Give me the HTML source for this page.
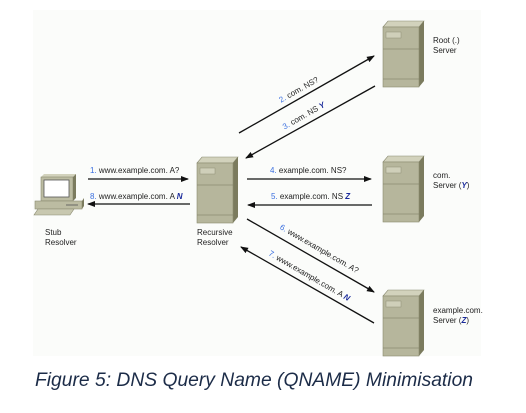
<!DOCTYPE html>
<html><head><meta charset="utf-8"><style>
html,body{margin:0;padding:0;background:#fff;width:526px;height:413px;overflow:hidden}
svg{display:block}
text{font-family:"Liberation Sans",Arial,sans-serif;font-size:8px;fill:#222}
.b{fill:#3a6fe0}
.n{fill:#1a2a9a;font-weight:bold;font-style:italic}
</style></head><body>
<svg width="526" height="413" viewBox="0 0 526 413">
<defs>
<marker id="a" markerWidth="8" markerHeight="8" refX="7" refY="4" orient="auto" markerUnits="userSpaceOnUse">
<path d="M0,1 L8,4 L0,7 Z" fill="#111"/></marker>
<g id="srv">
<path d="M0,6 L36,6 L41,0 L5,0 Z" fill="#d2d2bc" stroke="#8a8a70" stroke-width="0.6"/>
<path d="M36,6 L41,0 L41,60 L36,66 Z" fill="#7b7b5e"/>
<rect x="0" y="6" width="36" height="60" fill="#b6b69c" stroke="#8a8a70" stroke-width="0.6"/>
<rect x="3" y="11" width="15" height="6" fill="#cfcfb9" stroke="#8f8f76" stroke-width="0.5"/>
<line x1="0" y1="28" x2="36" y2="28" stroke="#8a8a70" stroke-width="0.8"/>
<line x1="0" y1="58" x2="36" y2="58" stroke="#8a8a70" stroke-width="0.8"/>
</g>
</defs>
<rect x="33" y="10" width="448" height="346" fill="#fbfcfa"/>
<use href="#srv" x="197" y="157"/>
<use href="#srv" x="383" y="21"/>
<use href="#srv" x="383" y="156"/>
<use href="#srv" x="383" y="290"/>
<g>
<path d="M41,177 L73,177 L76,174 L44,174 Z" fill="#d2d2bc"/>
<rect x="41" y="177" width="32" height="24" fill="#bcbca2" stroke="#8a8a70" stroke-width="0.6"/>
<path d="M73,177 L76,174 L76,198 L73,201 Z" fill="#7b7b5e"/>
<rect x="44" y="180" width="25" height="17" fill="#fff" stroke="#555" stroke-width="0.8"/>
<rect x="35" y="201" width="47" height="8" fill="#bcbca2" stroke="#8a8a70" stroke-width="0.6"/>
<path d="M82,201 L84,198 L84,206 L82,209 Z" fill="#7b7b5e"/>
<line x1="66" y1="205" x2="78" y2="205" stroke="#555" stroke-width="0.8"/>
<path d="M38,209 L74,209 L70,215 L34,215 Z" fill="#c8c8b0" stroke="#8a8a70" stroke-width="0.6"/>
</g>
<g stroke="#111" stroke-width="1.3" fill="none" marker-end="url(#a)">
<line x1="88" y1="179" x2="188" y2="179"/>
<line x1="190" y1="204" x2="88" y2="204"/>
<line x1="239" y1="133" x2="374" y2="56"/>
<line x1="375" y1="86" x2="246" y2="158"/>
<line x1="247" y1="179" x2="371" y2="179"/>
<line x1="372" y1="205" x2="248" y2="205"/>
<line x1="247" y1="219" x2="374" y2="292"/>
<line x1="374" y1="323" x2="241" y2="247"/>
</g>
<text x="90" y="173"><tspan class="b">1.</tspan> www.example.com. A?</text>
<text x="90" y="199"><tspan class="b">8.</tspan> www.example.com. A <tspan class="n">N</tspan></text>
<text x="270" y="173"><tspan class="b">4.</tspan> example.com. NS?</text>
<text x="271" y="199"><tspan class="b">5.</tspan> example.com. NS <tspan class="n">Z</tspan></text>
<text transform="translate(300,92) rotate(-29.6)" text-anchor="middle"><tspan class="b">2.</tspan> com. NS?</text>
<text transform="translate(305,118) rotate(-29.6)" text-anchor="middle"><tspan class="b">3.</tspan> com. NS <tspan class="n">Y</tspan></text>
<text transform="translate(318,251) rotate(30)" text-anchor="middle"><tspan class="b">6.</tspan> www.example.com. A?</text>
<text transform="translate(308,278) rotate(30)" text-anchor="middle"><tspan class="b">7.</tspan> www.example.com. A <tspan class="n">N</tspan></text>
<text x="433" y="43">Root (.)</text>
<text x="433" y="53">Server</text>
<text x="433" y="178">com.</text>
<text x="433" y="188">Server  (<tspan class="n">Y</tspan>)</text>
<text x="433" y="313">example.com.</text>
<text x="433" y="323">Server  (<tspan class="n">Z</tspan>)</text>
<text x="45" y="235">Stub</text>
<text x="45" y="245">Resolver</text>
<text x="197" y="235">Recursive</text>
<text x="197" y="245">Resolver</text>
<text x="35" y="386" textLength="438" lengthAdjust="spacingAndGlyphs" style="font-size:19.5px;font-style:italic;fill:#1c2c48">Figure 5: DNS Query Name (QNAME) Minimisation</text>
</svg>
</body></html>
